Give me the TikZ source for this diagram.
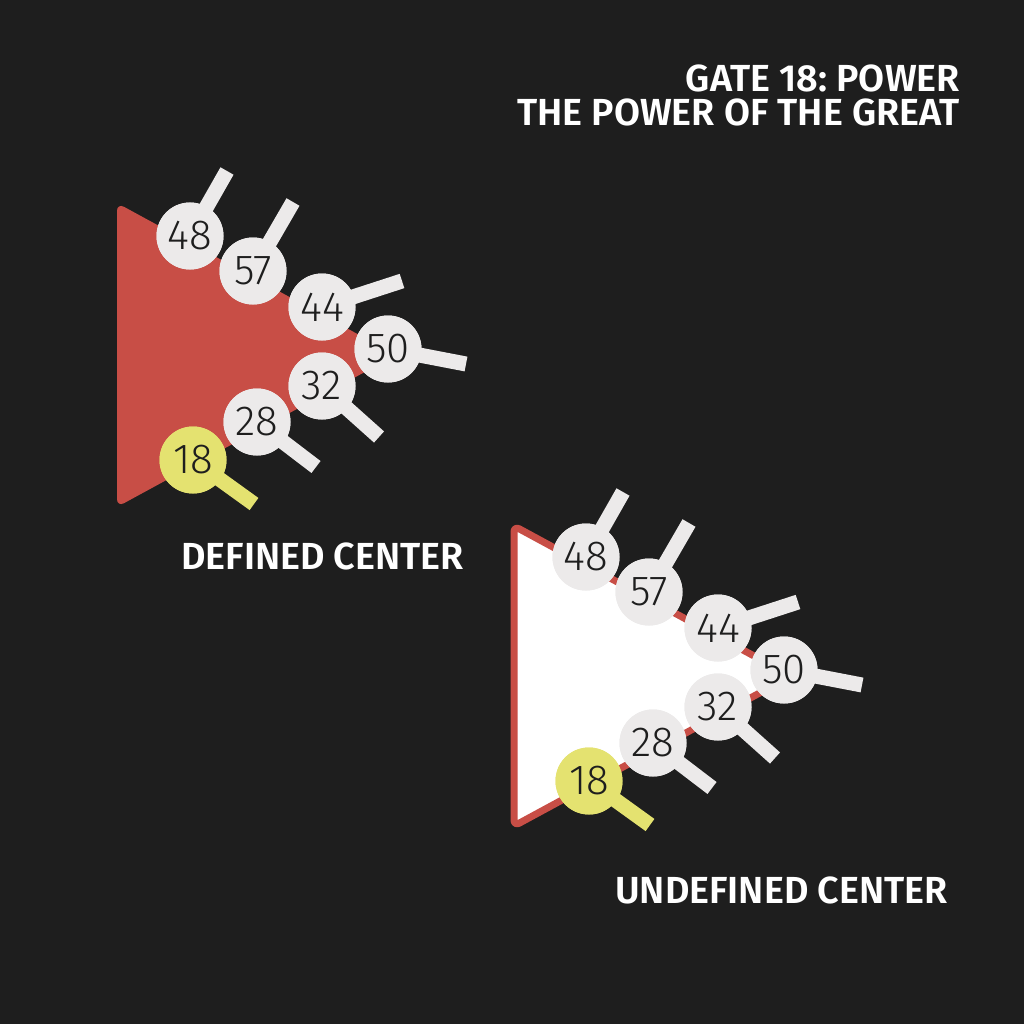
\documentclass[tikz,border=0pt]{standalone}
\usepackage{fontspec}
\setmainfont{Fira Sans}
\newfontfamily\labfont{Fira Sans}[UprightFont={* SemiBold}]
\newfontfamily\numfont{Fira Sans}[UprightFont={* Light}]
\frenchspacing
\definecolor{bgc}{RGB}{30,30,30}
\definecolor{redc}{RGB}{200,78,70}
\definecolor{circc}{RGB}{236,234,234}
\definecolor{yelc}{RGB}{228,226,112}
\definecolor{numc}{RGB}{30,30,30}
\tikzset{
  gatecirc/.style={circle,minimum size=67pt,inner sep=0pt,fill=circc,text=numc,font=\numfont\fontsize{42}{42}\selectfont},
  yelcirc/.style={gatecirc,fill=yelc},
  stick/.style={line width=15pt,draw=circc},
  yelstick/.style={line width=15pt,draw=yelc},
  lab/.style={text=white,font=\labfont\fontsize{37.7}{37.7}\selectfont,inner sep=0pt},
}
% \gatenode{name}{cx}{cy}{dx}{dy}{circle style}{stick style}{label}
\newcommand\gatenode[8]{%
  \coordinate (#1e) at (#2+#4,#3+#5);
  \node[#6] (#1) at (#2,#3) {};
  \draw[#7] (#1.center) -- (#1e);
  \node[#6] at (#1) {#8};
}
\newcommand\gateset[3]{% prefix, ox, oy
  \gatenode{#1g48}{190+#2}{236+#3}{37}{-65}{gatecirc}{stick}{48}
  \gatenode{#1g57}{253+#2}{271+#3}{40}{-69}{gatecirc}{stick}{57}
  \gatenode{#1g44}{322+#2}{307+#3}{80}{-26}{gatecirc}{stick}{44}
  \gatenode{#1g50}{388+#2}{349+#3}{78}{15}{gatecirc}{stick}{50}
  \gatenode{#1g32}{322+#2}{386+#3}{57}{51}{gatecirc}{stick}{32}
  \gatenode{#1g28}{257+#2}{422+#3}{59}{45}{gatecirc}{stick}{28}
  \gatenode{#1g18}{193+#2}{460+#3}{61}{44}{yelcirc}{yelstick}{18}
}
\begin{document}
\begin{tikzpicture}[x=1pt,y=-1pt]
\fill[bgc] (0,0) rectangle (1024,1024);
\useasboundingbox (0,0) rectangle (1024,1024);
% defined center
\fill[redc,rounded corners=8pt] (117,203) -- (396,355) -- (117,507) -- cycle;
\gateset{a}{0}{0}
\node[lab,anchor=west] (deflab) at (181,556) {DEFINED CENTER};
% undefined center
\filldraw[fill=white,draw=redc,line width=7pt,rounded corners=6pt,line join=round] (514,526) -- (791,676) -- (514,826) -- cycle;
\gateset{b}{396}{321}
\node[lab,anchor=west] (undeflab) at (615,890) {UNDEFINED CENTER};
% title
\node[lab,anchor=east] (title1) at (960,78) {GATE 18: POWER};
\node[lab,anchor=east] (title2) at (960,112) {THE POWER OF THE GREAT};
\end{tikzpicture}
\end{document}
